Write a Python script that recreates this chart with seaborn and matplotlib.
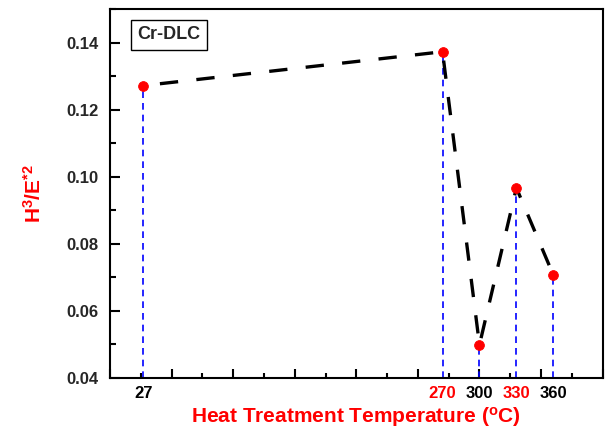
import numpy as np
import pandas as pd
import matplotlib
matplotlib.use("Agg")
import matplotlib.pyplot as plt
import seaborn as sns
from matplotlib.ticker import MultipleLocator

# data
temps = [27, 270, 300, 330, 360]
ratio = [0.1272, 0.1373, 0.0499, 0.0967, 0.0707]
tick_text = ["27", "270", "300", "330", "360"]
tick_colors = ["black", "red", "black", "red", "black"]

df = pd.DataFrame({"T": temps, "R": ratio})

sns.set_style("white")
plt.rcParams["font.family"] = ["Liberation Sans", "DejaVu Sans"]
plt.rcParams["font.weight"] = "bold"
plt.rcParams["mathtext.default"] = "regular"

fig, ax = plt.subplots(figsize=(6.05, 4.36), dpi=100)
fig.subplots_adjust(left=0.182, right=0.996, top=0.979, bottom=0.133)

# blue drop lines from each point to the x axis
ax.vlines(df["T"], 0.04, df["R"], colors="#0000ff", linestyles=(0, (4, 3)), linewidth=1.2, zorder=1)

sns.lineplot(data=df, x="T", y="R", color="black", linewidth=2.4, ax=ax, zorder=2)
ax.lines[-1].set_linestyle((6, (5.5, 5.5)))
sns.scatterplot(data=df, x="T", y="R", color="red", s=50, edgecolor="red", ax=ax, zorder=3)

ax.set_xlim(0, 400)
ax.set_ylim(0.04, 0.15)
ax.xaxis.set_major_locator(MultipleLocator(50))
ax.xaxis.set_minor_locator(MultipleLocator(25))
ax.yaxis.set_major_locator(MultipleLocator(0.02))
ax.yaxis.set_minor_locator(MultipleLocator(0.01))
ax.set_xticklabels([])
ax.set_yticks(np.arange(0.04, 0.141, 0.02))
ax.set_yticklabels([f"{v:.2f}" for v in np.arange(0.04, 0.141, 0.02)])
ax.tick_params(axis="both", which="both", direction="in", width=1.5, color="black",
               bottom=True, left=True, top=False, right=False)
ax.tick_params(axis="x", which="major", length=6.5)
ax.tick_params(axis="x", which="minor", length=3.5)
ax.tick_params(axis="y", which="major", length=7, labelsize=12, pad=8)
ax.tick_params(axis="y", which="minor", length=4)
for s in ax.spines.values():
    s.set_linewidth(1.5)
    s.set_color("black")

# custom temperature labels under the axis
for t, lab, c in zip(temps, tick_text, tick_colors):
    ax.text(t, -0.042, lab, color=c, fontsize=12, fontweight="bold", ha="center", va="center",
            transform=ax.get_xaxis_transform())

ax.set_xlabel("Heat Treatment Temperature ($^{o}$C)", color="red", fontsize=15, fontweight="bold", labelpad=16)
ax.set_ylabel("H$^{3}$/E$^{*2}$", color="red", fontsize=15, fontweight="bold", labelpad=16)

ax.text(0.055, 0.93, "Cr-DLC", transform=ax.transAxes, fontsize=13, fontweight="bold",
        va="center", ha="left",
        bbox=dict(boxstyle="square,pad=0.35", facecolor="white", edgecolor="black", linewidth=1))

fig.savefig("out.png", dpi=100)
